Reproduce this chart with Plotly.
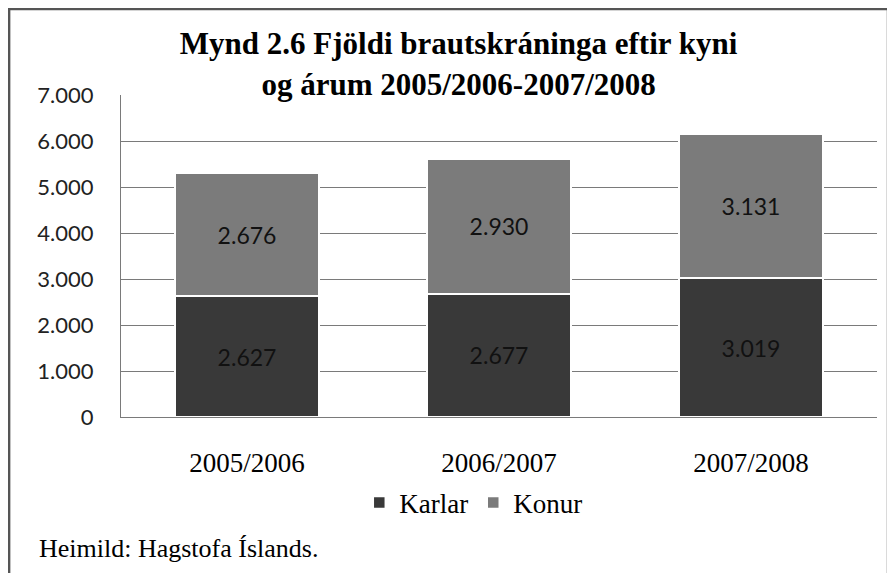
import plotly.graph_objects as go

years = ["2005/2006", "2006/2007", "2007/2008"]
karlar = [2627, 2677, 3019]
konur = [2676, 2930, 3131]

fig = go.Figure()

fig.add_trace(go.Bar(
    x=years, y=karlar, name="Karlar",
    marker=dict(color="#393939", line=dict(color="white", width=1.5)),
    texttemplate="%{y:,}", textposition="inside", insidetextanchor="middle",
    textfont=dict(family="Lato", size=23, color="#111111"),
))
fig.add_trace(go.Bar(
    x=years, y=konur, name="Konur",
    marker=dict(color="#7b7b7b", line=dict(color="white", width=1.5)),
    texttemplate="%{y:,}", textposition="inside", insidetextanchor="middle",
    textfont=dict(family="Lato", size=23, color="#111111"),
))

# page body has an 8px margin, so the figure is sized to fit inside the window
fig.update_layout(
    barmode="stack",
    bargap=0.43,
    separators=",.",
    width=887, height=565,
    margin=dict(l=113, r=18, t=87, b=156),
    paper_bgcolor="white", plot_bgcolor="white",
    title=dict(
        text="<b>Mynd 2.6 Fjöldi brautskráninga eftir kyni<br>og árum 2005/2006-2007/2008</b>",
        x=0.508, xanchor="center", y=0.918, yanchor="middle",
        font=dict(family="Liberation Serif", size=31, color="black"),
    ),
    legend=dict(
        orientation="h", x=0.466, xanchor="center", y=-0.267, yanchor="middle",
        font=dict(family="Liberation Serif", size=27, color="black"),
        itemwidth=30, traceorder="normal",
    ),
    showlegend=True,
)

fig.update_yaxes(
    range=[0, 7000], dtick=1000, tickformat=",",
    showgrid=True, gridcolor="#7a7a7a", gridwidth=1,
    showline=True, linecolor="#7a7a7a", linewidth=1,
    ticks="", ticklabelstandoff=22,
    tickfont=dict(family="Lato", size=22, color="#222222"),
    zeroline=False,
)
fig.update_xaxes(
    showline=True, linecolor="#7a7a7a", linewidth=1,
    ticks="", ticklabelstandoff=22,
    tickfont=dict(family="Liberation Serif", size=27, color="black"),
)

# outer border of the chart image
fig.add_shape(type="rect", xref="paper", yref="paper",
              x0=-0.148, x1=1.0146, y0=-0.55, y1=1.267,
              line=dict(color="#555555", width=2.5), fillcolor="rgba(0,0,0,0)")

fig.add_annotation(
    text="Heimild: Hagstofa Íslands.", xref="paper", yref="paper",
    x=-0.111, y=-0.407, xanchor="left", yanchor="middle", showarrow=False,
    font=dict(family="Liberation Serif", size=26, color="black"),
)

fig.write_html("out.html")
